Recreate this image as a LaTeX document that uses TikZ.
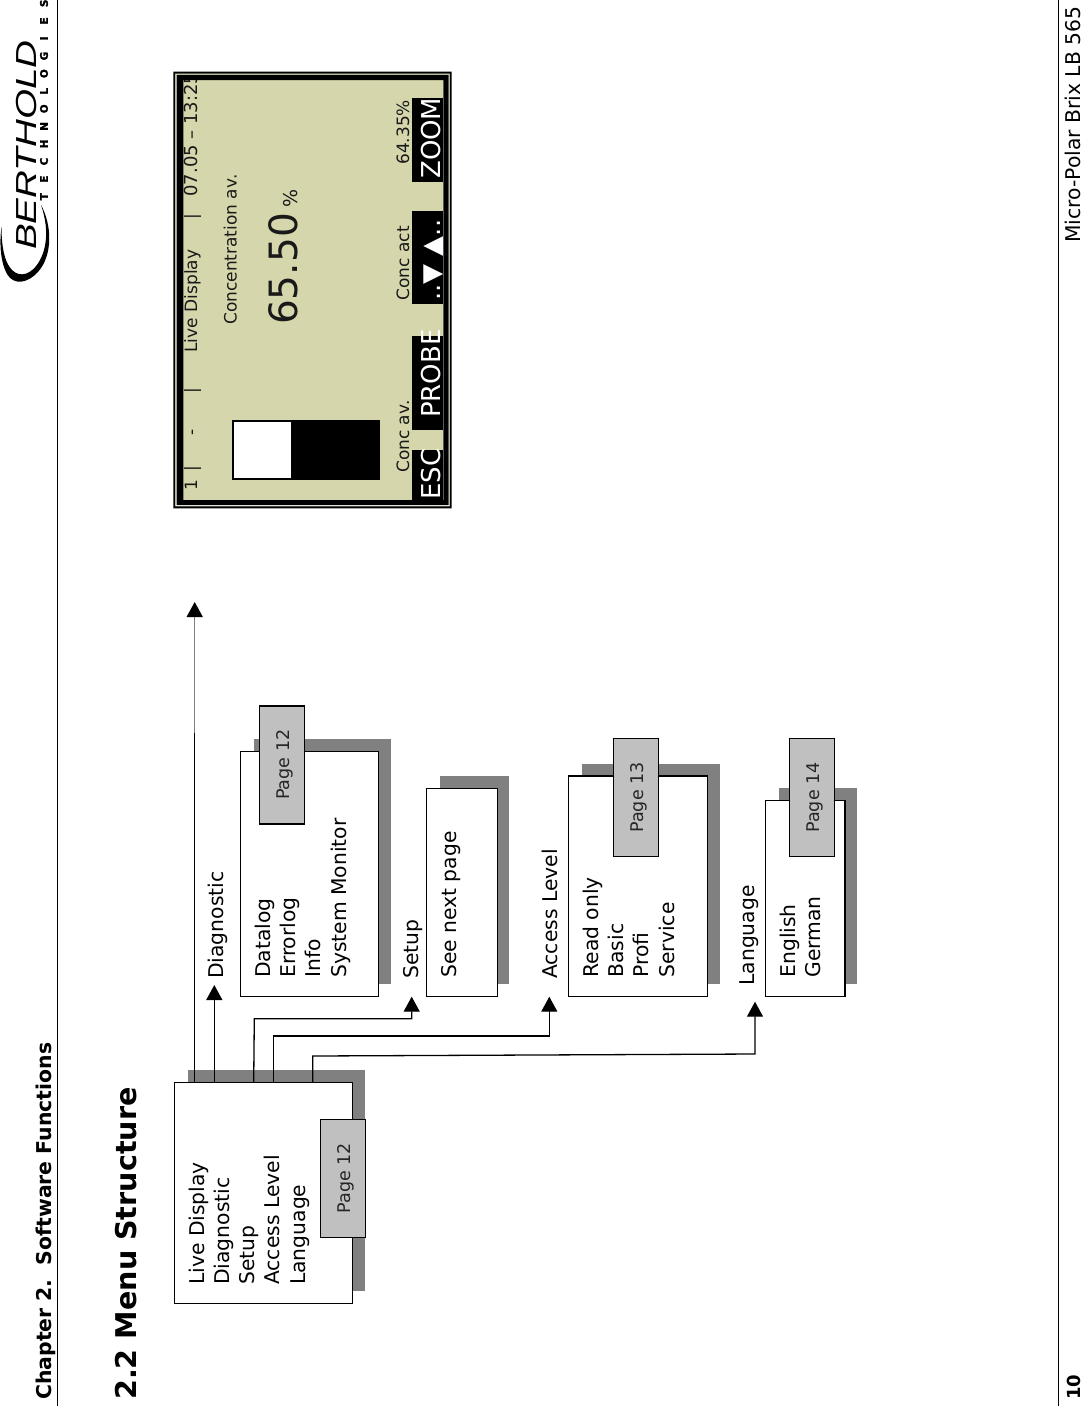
\documentclass[tikz,border=0pt]{standalone}
\usepackage{graphicx}
\usepackage{fontspec}
\setmainfont{DejaVu Sans}
\newfontfamily\logofont{Liberation Sans}
\usetikzlibrary{arrows.meta}
\definecolor{shadowgray}{HTML}{808080}
\definecolor{tabgray}{HTML}{C0C0C0}
\definecolor{lcdgreen}{HTML}{D5D6AC}
\tikzset{
  rottext/.style={rotate=90,anchor=base west,inner sep=0pt},
  menutext/.style={rottext,align=left,font=\fontsize{20.3}{25.3}\selectfont},
  lcdtext/.style={rottext,text=black!90,font=\fontsize{17}{17}\selectfont},
  softkey/.style={rottext,text=white,font=\fontsize{26}{26}\selectfont},
  menubox/.style={draw,fill=white,line width=1.5pt,inner sep=0pt},
  pagetab/.style={draw,fill=tabgray,line width=1.5pt,inner sep=0pt,rotate=90,text height=15pt,text depth=0pt,
    text=black!85,font=\fontsize{17.5}{18}\selectfont,minimum width=118pt,minimum height=45pt},
  wire/.style={line width=1.3pt},
  tipwire/.style={wire,-{Triangle[black,width=16pt,length=15pt]}}
}
\begin{document}
\begin{tikzpicture}[x=1pt,y=-1pt]
  \useasboundingbox (0,0) rectangle (1082,1406);
  % page head and foot
  \draw [line width=1pt] (57.3,0) -- (57.3,1406);
  \draw [line width=1pt] (1058.3,0) -- (1058.3,1406);
  \node [rottext,font=\fontsize{20.4}{20}\bfseries] (chaptertitle) at (51.5,1400) {Chapter 2.\ \ Software Functions};
  \node [rottext,font=\fontsize{28.6}{29}\bfseries] (sectiontitle) at (136.7,1400) {2.2 Menu Structure};
  \node [rottext,font=\fontsize{18}{18}\bfseries] (pagenumber) at (1080.5,1400) {10};
  \node [rottext,font=\fontsize{20.3}{20}\selectfont] (productname) at (1080.5,243) {Micro-Polar Brix LB 565};
  % logo
  \fill (41,205) .. controls (52,225) and (53,255) .. (38,272) .. controls (28,283) and (14,286) .. (7,274)
    .. controls (1,263) and (-1,245) .. (1.5,227) .. controls (1.5,245) and (4,262) .. (12,270)
    .. controls (20,278) and (32,275) .. (40,260) .. controls (48,245) and (48,225) .. (41,205) -- cycle;
  \node [rottext,font=\logofont\itshape\fontsize{29}{29}\selectfont] (logoname) at (36,250) {\scalebox{1.33}[1]{BERTHOLD}};
  \foreach \c [count=\i from 0] in {T,E,C,H,N,O,L,O,G,I,E,S}
    \node [rotate=90,inner sep=0pt,font=\fontsize{10.5}{10}\bfseries\addfontfeature{FakeBold=2}] (logoletter\i) at (44,{196.7-17.58*\i}) {\c};
  % menu boxes with shadows
  \fill [shadowgray] (188,1070) rectangle (365,1291);
  \node [menubox,minimum width=178pt,minimum height=221pt] (mainbox) at (263.7,1192.8) {};
  \node [pagetab] (maintab) at (343.2,1178.3) {Page 12};
  \node [menutext] (maintext) at (305.2,1285) {Live Display\\Diagnostic\\Setup\\Access Level\\Language};
  \fill [shadowgray] (254,739) rectangle (391,984);
  \node [menubox,minimum width=138pt,minimum height=245.4pt] (diagbox) at (309.7,874) {};
  \node [pagetab] (diagtab) at (282,764.8) {Page 12};
  \node [menutext] (diagtext) at (346,978) {Datalog\\Errorlog\\Info\\System Monitor};
  \fill [shadowgray] (440,776) rectangle (509.3,984);
  \node [menubox,minimum width=70.6pt,minimum height=208.4pt] (setupbox) at (462,892.5) {};
  \node [menutext] (setuptext) at (456,978) {See next page};
  \fill [shadowgray] (582,764) rectangle (720,984);
  \node [menubox,minimum width=138.6pt,minimum height=220.7pt] (accessbox) at (638,886.3) {};
  \node [pagetab] (accesstab) at (636,797.5) {Page 13};
  \node [menutext] (accesstext) at (674,977.7) {Read only\\Basic\\Profi\\Service};
  \fill [shadowgray] (779,788.3) rectangle (857.3,984);
  \node [menubox,minimum width=79.3pt,minimum height=196pt] (langbox) at (805.3,898.7) {};
  \node [pagetab] (langtab) at (812,797.5) {Page 14};
  \node [menutext] (langtext) at (820.3,977.7) {English\\German};
  % connector labels
  \node [menutext] (diaglabel) at (223,979) {Diagnostic};
  \node [menutext] (setuplabel) at (418,979) {Setup};
  \node [menutext] (accesslabel) at (557,979) {Access Level};
  \node [menutext] (langlabel) at (754,985.7) {Language};
  % connectors
  \coordinate (livestart) at (194.7,1082.3);
  \coordinate (liveend) at (194.7,602);
  \coordinate (livefade) at (194.7,733);
  \coordinate (diagstart) at (214.3,1082.3);
  \coordinate (diagend) at (214.3,985);
  \coordinate (setupstart) at (253.7,1082.3);
  \coordinate (setupcorner) at (254.3,1018.7);
  \coordinate (setupturn) at (411.7,1018.7);
  \coordinate (setupend) at (411.7,996.7);
  \coordinate (accessstart) at (273.3,1082.3);
  \coordinate (accesscorner) at (273.3,1036);
  \coordinate (accessturn) at (549.3,1036);
  \coordinate (accessend) at (549.3,996.7);
  \coordinate (langstart) at (312.7,1082.3);
  \coordinate (langcorner) at (312.7,1056);
  \coordinate (langturn) at (755,1054);
  \coordinate (langend) at (755,1001.7);
  \draw [wire] (livestart) -- (livefade);
  \draw [tipwire,shadowgray] (livefade) -- (liveend);
  \draw [tipwire] (diagstart) -- (diagend);
  \draw [tipwire] (setupstart) -- (setupcorner) -- (setupturn) -- (setupend);
  \draw [tipwire] (accessstart) -- (accesscorner) -- (accessturn) -- (accessend);
  \draw [tipwire] (langstart) -- (langcorner) -- (langturn) -- (langend);
  % display
  \fill [lcdgreen] (183.3,80) rectangle (443.3,500);
  \fill (412.3,450) rectangle (443.3,500);
  \fill (412.3,336) rectangle (443.3,430);
  \fill (412.3,211) rectangle (443.3,304);
  \fill (412.3,98.3) rectangle (443.3,181.7);
  \fill (232.3,420) rectangle (380,480);
  \fill [white] (234,422) rectangle (291,478);
  \node [lcdtext] (statusone) at (197,491) {1};
  \node [lcdtext] (statussepa) at (197,472) {|};
  \node [lcdtext] (statusdash) at (197,436) {-};
  \node [lcdtext] (statussepb) at (197,394) {|};
  \node [lcdtext] (statusname) at (197,352.7) {Live Display};
  \node [lcdtext] (statussepc) at (197,220) {|};
  \node [lcdtext,font=\fontsize{18}{18}\selectfont] (statusdate) at (197,196.7) {07.05 – 13:25};
  \node [lcdtext] (lcdheading) at (236.7,325) {Concentration av.};
  \node [rottext,text=black!90,font=\fontsize{39}{39}\selectfont] (lcdvalue) at (297.7,325) {65.50};
  \node [rottext,text=black!90,font=\fontsize{19}{19}\selectfont] (lcdunit) at (297.7,208) {\%};
  \node [lcdtext] (concav) at (409,473) {Conc av.};
  \node [lcdtext] (concact) at (409,300.7) {Conc act};
  \node [lcdtext] (concval) at (409,165) {64.35\%};
  \node [softkey] (keyesc) at (440.3,500) {ESC};
  \node [softkey] (keyprobe) at (440.3,418) {PROBE};
  \node [softkey] (keyscroll) at (440.3,301) {..▼ ▲..};
  \node [softkey] (keyzoom) at (440.3,179) {ZOOM};
  % display frame goes last, it hides the clipped clock
  \draw [lcdgreen,line width=1pt] (175.7,74) rectangle (449.3,506);
  \fill [black,even odd rule] (173.3,71.7) rectangle (451.7,508.3) (175.2,73.6) rectangle (449.8,506.4);
  \fill [black,even odd rule] (176.5,74.8) rectangle (448.5,505.2) (183.3,80) rectangle (443.3,500);
\end{tikzpicture}
\end{document}
